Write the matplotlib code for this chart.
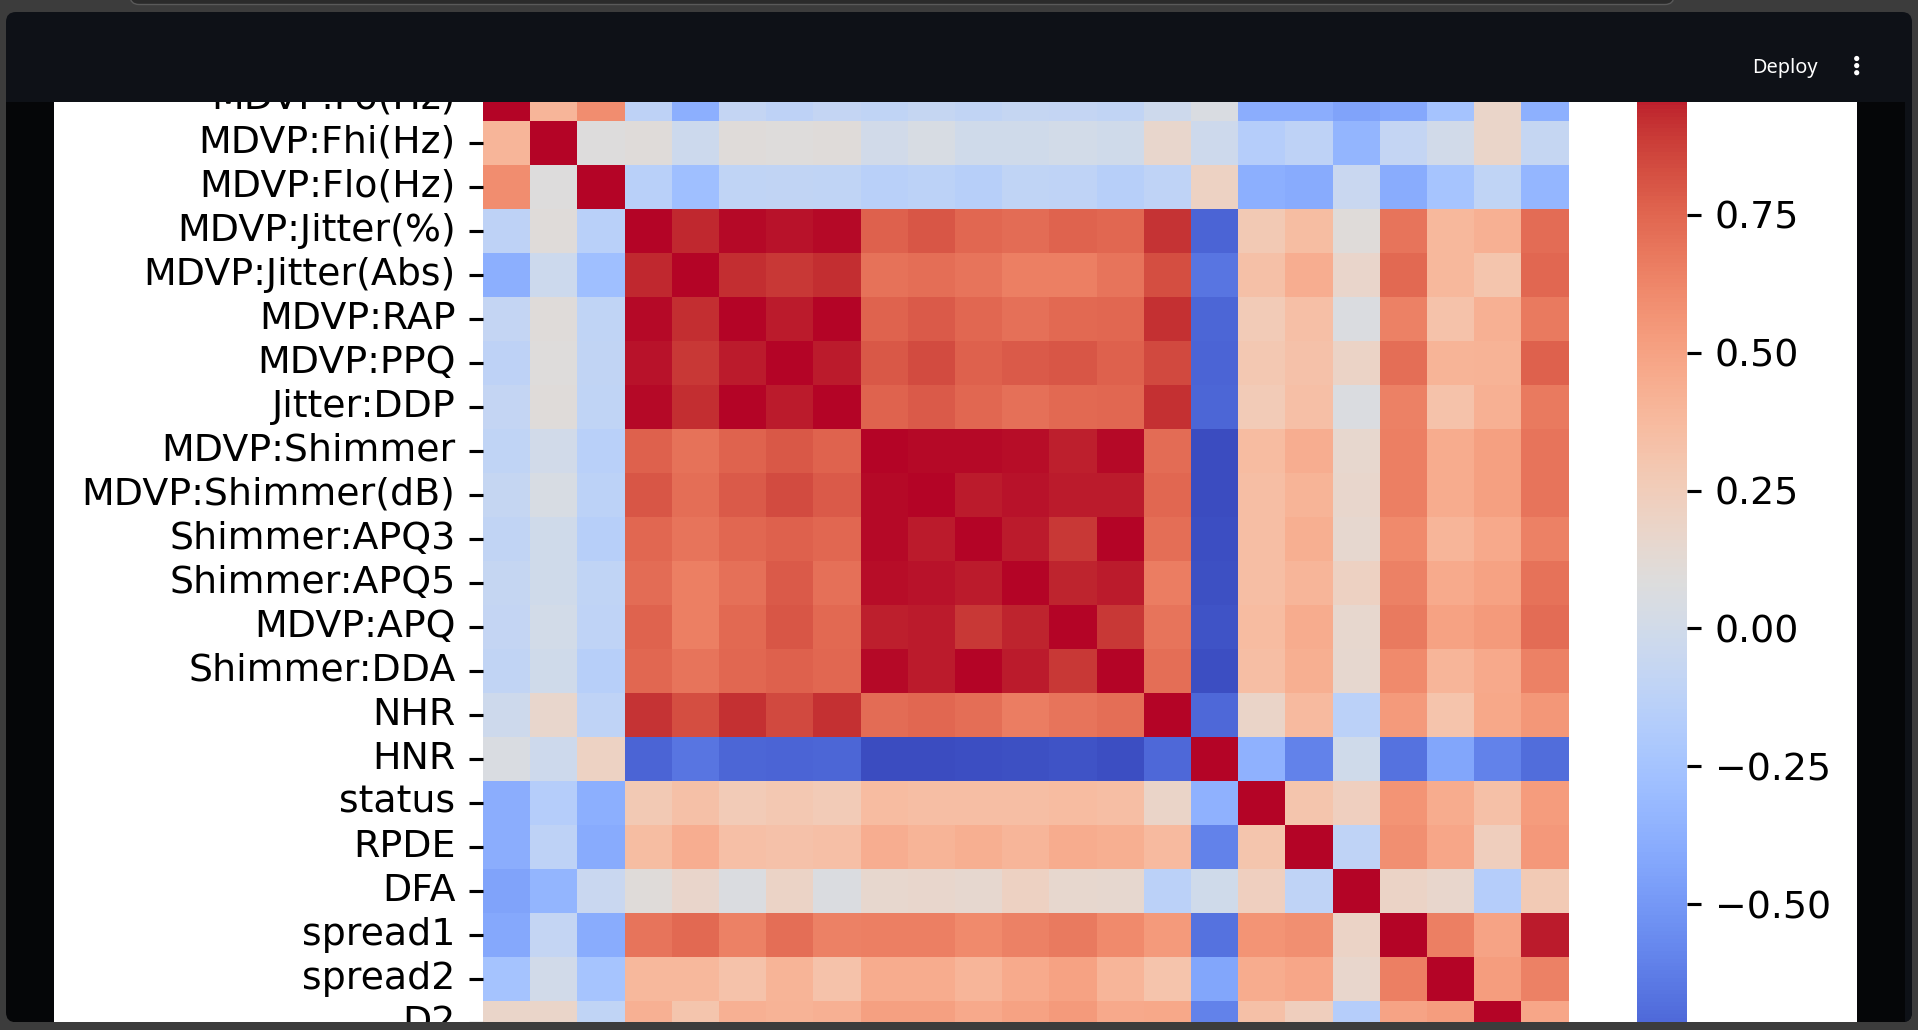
import numpy as np
import pandas as pd
import matplotlib
matplotlib.use("Agg")
import matplotlib.pyplot as plt
import seaborn as sns
from matplotlib.patches import Rectangle, FancyBboxPatch, Circle
from matplotlib.ticker import MultipleLocator
from matplotlib.colors import LinearSegmentedColormap

labels = ["MDVP:Fo(Hz)", "MDVP:Fhi(Hz)", "MDVP:Flo(Hz)", "MDVP:Jitter(%)",
          "MDVP:Jitter(Abs)", "MDVP:RAP", "MDVP:PPQ", "Jitter:DDP",
          "MDVP:Shimmer", "MDVP:Shimmer(dB)", "Shimmer:APQ3", "Shimmer:APQ5",
          "MDVP:APQ", "Shimmer:DDA", "NHR", "HNR", "status", "RPDE", "DFA",
          "spread1", "spread2", "D2", "PPE"]

fo = [1.000, 0.401, 0.597, -0.118, -0.382, -0.076, -0.112, -0.076, -0.098, -0.074, -0.095, -0.071, -0.078, -0.095, -0.022, 0.059, -0.384, -0.384, -0.446, -0.414, -0.249, 0.178, -0.372]
fhi = [0.401, 1.000, 0.085, 0.102, -0.029, 0.097, 0.091, 0.097, 0.002, 0.043, -0.004, -0.010, 0.005, -0.004, 0.164, -0.025, -0.166, -0.112, -0.343, -0.077, -0.003, 0.176, -0.070]
flo = [0.597, 0.085, 1.000, -0.140, -0.278, -0.101, -0.096, -0.100, -0.145, -0.119, -0.151, -0.101, -0.107, -0.151, -0.109, 0.211, -0.380, -0.400, -0.050, -0.395, -0.244, -0.101, -0.340]
jit_pct = [-0.118, 0.102, -0.140, 1.000, 0.936, 0.990, 0.974, 0.990, 0.769, 0.804, 0.747, 0.726, 0.758, 0.747, 0.907, -0.728, 0.278, 0.361, 0.099, 0.694, 0.385, 0.433, 0.722]
jit_abs = [-0.382, -0.029, -0.278, 0.936, 1.000, 0.923, 0.898, 0.923, 0.703, 0.717, 0.697, 0.649, 0.649, 0.697, 0.835, -0.657, 0.339, 0.442, 0.175, 0.736, 0.389, 0.311, 0.748]
rap = [-0.076, 0.097, -0.101, 0.990, 0.923, 1.000, 0.957, 1.000, 0.760, 0.791, 0.745, 0.710, 0.737, 0.745, 0.920, -0.722, 0.267, 0.342, 0.064, 0.648, 0.324, 0.427, 0.671]
ppq = [-0.112, 0.091, -0.096, 0.974, 0.898, 0.957, 1.000, 0.957, 0.798, 0.839, 0.764, 0.787, 0.804, 0.764, 0.845, -0.732, 0.289, 0.333, 0.196, 0.716, 0.408, 0.413, 0.770]
ddp = [-0.076, 0.097, -0.100, 0.990, 0.923, 1.000, 0.957, 1.000, 0.760, 0.791, 0.745, 0.710, 0.737, 0.745, 0.920, -0.721, 0.267, 0.342, 0.064, 0.648, 0.324, 0.427, 0.671]
shim = [-0.098, 0.002, -0.145, 0.769, 0.703, 0.760, 0.798, 0.760, 1.000, 0.987, 0.988, 0.983, 0.950, 0.988, 0.722, -0.835, 0.367, 0.447, 0.160, 0.655, 0.452, 0.507, 0.694]
shim_db = [-0.074, 0.043, -0.119, 0.804, 0.717, 0.791, 0.839, 0.791, 0.987, 1.000, 0.963, 0.974, 0.961, 0.963, 0.744, -0.828, 0.351, 0.411, 0.165, 0.653, 0.454, 0.512, 0.695]
apq3 = [-0.095, -0.004, -0.151, 0.747, 0.697, 0.745, 0.764, 0.745, 0.988, 0.963, 1.000, 0.960, 0.897, 1.000, 0.716, -0.827, 0.348, 0.435, 0.151, 0.611, 0.402, 0.467, 0.645]
apq5 = [-0.071, -0.010, -0.101, 0.726, 0.649, 0.710, 0.787, 0.710, 0.983, 0.974, 0.960, 1.000, 0.949, 0.960, 0.658, -0.814, 0.351, 0.400, 0.214, 0.647, 0.457, 0.502, 0.702]
apq = [-0.078, 0.005, -0.107, 0.758, 0.649, 0.737, 0.804, 0.737, 0.950, 0.961, 0.897, 0.949, 1.000, 0.897, 0.694, -0.800, 0.364, 0.451, 0.157, 0.673, 0.502, 0.537, 0.722]
dda = [-0.095, -0.004, -0.151, 0.747, 0.697, 0.745, 0.764, 0.745, 0.988, 0.963, 1.000, 0.960, 0.897, 1.000, 0.716, -0.827, 0.348, 0.435, 0.151, 0.611, 0.402, 0.467, 0.645]
nhr = [-0.022, 0.164, -0.109, 0.907, 0.835, 0.920, 0.845, 0.920, 0.722, 0.744, 0.716, 0.658, 0.694, 0.716, 1.000, -0.714, 0.189, 0.371, -0.132, 0.541, 0.318, 0.471, 0.553]
hnr = [0.059, -0.025, 0.211, -0.728, -0.657, -0.722, -0.732, -0.721, -0.835, -0.828, -0.827, -0.814, -0.800, -0.827, -0.714, 1.000, -0.362, -0.599, -0.009, -0.673, -0.432, -0.601, -0.693]
status = [-0.384, -0.166, -0.380, 0.278, 0.339, 0.267, 0.289, 0.267, 0.367, 0.351, 0.348, 0.351, 0.364, 0.348, 0.189, -0.362, 1.000, 0.309, 0.232, 0.565, 0.455, 0.340, 0.531]
rpde = [-0.384, -0.112, -0.400, 0.361, 0.442, 0.342, 0.333, 0.342, 0.447, 0.411, 0.435, 0.400, 0.451, 0.435, 0.371, -0.599, 0.309, 1.000, -0.111, 0.591, 0.480, 0.237, 0.546]
dfa = [-0.446, -0.343, -0.050, 0.099, 0.175, 0.064, 0.196, 0.064, 0.160, 0.165, 0.151, 0.214, 0.157, 0.151, -0.132, -0.009, 0.232, -0.111, 1.000, 0.196, 0.167, -0.165, 0.270]
spread1 = [-0.414, -0.077, -0.395, 0.694, 0.736, 0.648, 0.716, 0.648, 0.655, 0.653, 0.611, 0.647, 0.673, 0.611, 0.541, -0.673, 0.565, 0.591, 0.196, 1.000, 0.652, 0.495, 0.962]
spread2 = [-0.249, -0.003, -0.244, 0.385, 0.389, 0.324, 0.408, 0.324, 0.452, 0.454, 0.402, 0.457, 0.502, 0.402, 0.318, -0.432, 0.455, 0.480, 0.167, 0.652, 1.000, 0.524, 0.645]
d2 = [0.178, 0.176, -0.101, 0.433, 0.311, 0.427, 0.413, 0.427, 0.507, 0.512, 0.467, 0.502, 0.537, 0.467, 0.471, -0.601, 0.340, 0.237, -0.165, 0.495, 0.524, 1.000, 0.481]
ppe = [-0.372, -0.070, -0.340, 0.722, 0.748, 0.671, 0.770, 0.671, 0.694, 0.695, 0.645, 0.702, 0.722, 0.645, 0.553, -0.693, 0.531, 0.546, 0.270, 0.962, 0.645, 0.481, 1.000]

rows = [fo, fhi, flo, jit_pct, jit_abs, rap, ppq, ddp, shim, shim_db, apq3, apq5,
        apq, dda, nhr, hnr, status, rpde, dfa, spread1, spread2, d2, ppe]
corr = pd.DataFrame(rows, index=labels, columns=labels)

W, H = 1918, 1030
DPI = 281.6
GREY = "#3c3c3c"
NAVY = "#0e1117"
BLACK = "#050608"

fig = plt.figure(figsize=(W / DPI, H / DPI), dpi=DPI, facecolor=GREY)


def px_axes(l, t, r, b, **kw):
    return fig.add_axes([l / W, 1 - b / H, (r - l) / W, (b - t) / H], **kw)


def px_space(a):
    a.set_xlim(0, W)
    a.set_ylim(H, 0)
    a.axis("off")


# background: app panel
bg = px_axes(0, 0, W, H, zorder=0)
px_space(bg)
panel = FancyBboxPatch((6, 12), 1906, 1010.3, boxstyle="round,pad=0,rounding_size=10",
                       fc=BLACK, ec="none")
bg.add_patch(panel)
strip = Rectangle((1905, 90), 7.3, 940, fc=NAVY, ec="none")
bg.add_patch(strip)
strip.set_clip_path(panel)
bg.add_patch(Rectangle((54, 101.7), 1857 - 54, 1022.3 - 101.7, fc="white", ec="none"))

# heatmap (scrolled: top row and bottom rows partly out of view)
ax = px_axes(483, 77, 1568.5, 1089, zorder=1)
cax = px_axes(1636.7, 77, 1687.3, 1089, zorder=1)
sns.heatmap(corr, ax=ax, cbar_ax=cax, cmap="coolwarm",
            xticklabels=labels, yticklabels=labels)
ax.tick_params(axis="y", rotation=0, labelsize=9.7)
ax.tick_params(axis="x", labelsize=9.7)
cax.yaxis.set_major_locator(MultipleLocator(0.25))
cax.tick_params(labelsize=9.7)

# overlay: browser header and bottom edge
ov = px_axes(0, 0, W, H, zorder=10)
ov.add_patch(Rectangle((0, 0), W, 101.7, fc=GREY, ec="none"))
ov.add_patch(FancyBboxPatch((130, -30), 1544, 34.5, boxstyle="round,pad=0,rounding_size=9",
                            fc="#2b2b2b", ec="#5a5a5a", lw=0.35))
header = FancyBboxPatch((6, 12), 1906, 89.7, boxstyle="round,pad=0,rounding_size=10",
                        fc=NAVY, ec="none")
ov.add_patch(header)
ov.add_patch(Rectangle((6, 60), 1906, 41.7, fc=NAVY, ec="none"))
grad_cmap = LinearSegmentedColormap.from_list("deco", ["#ff4b4b", "#fffd80"])
im = ov.imshow(np.linspace(0, 1, 256).reshape(1, -1), extent=(6, 1912, 15, 12),
               aspect="auto", cmap=grad_cmap, interpolation="bilinear")
im.set_clip_path(header)
ov.text(1784.5, 73.3, "Deploy", color="white", fontsize=5.1, ha="center",
        va="baseline", family="Noto Sans")
for yy in (58.5, 65.6, 72.7):
    ov.add_patch(Circle((1856.7, yy), 2.6, fc="white", ec="none"))
ov.add_patch(Rectangle((0, 1022.3), W, 10, fc=GREY, ec="none"))
px_space(ov)

fig.savefig("out.png", dpi=DPI, facecolor=GREY)
